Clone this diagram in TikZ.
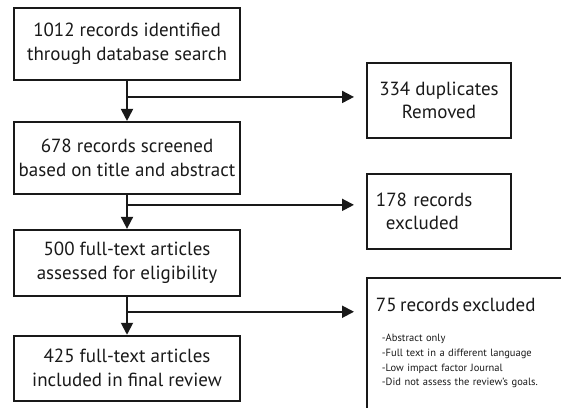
\documentclass[tikz,border=0pt]{standalone}
\usepackage{fontspec}
\setmainfont{PT Sans}
\usetikzlibrary{arrows.meta, positioning}
\tikzset{
  stagebox/.style={rectangle,draw=black!90,line width=1.9pt,text=black!90,
    minimum width=226pt,align=center,font=\fontsize{19}{24}\selectfont},
  sidebox/.style={rectangle,draw=black!90,line width=1.9pt,text=black!90,
    minimum width=144pt,minimum height=75pt,font=\fontsize{19}{23}\selectfont},
  arrow/.style={-{Triangle[length=12pt,width=12pt]},line width=1.9pt,draw=black!90}
}

\begin{document}
\begin{tikzpicture}[x=1pt,y=-1pt]
  \useasboundingbox (0,0) rectangle (561,407);
  \node[stagebox, minimum height=72pt] (ident) at (127,44)
    {1012 records identified\\ through database search};
  \node[stagebox, minimum height=72pt, below=40pt of ident] (screen)
    {678 records screened\\ based on title and abstract};
  \node[stagebox, minimum height=66pt, below=34pt of screen] (assess)
    {500 full-text articles\\ assessed for eligibility};
  \node[stagebox, minimum height=65pt, below=38pt of assess] (incl)
    {425 full-text articles\\ included in final review};

  \node[sidebox, align=center, anchor=north west] (dup) at (366,62)
    {334 duplicates\\ Removed};
  \node[sidebox, align=left, text width=126pt, inner xsep=9pt, anchor=north west] (excl) at (366,173)
    {178 records\\ \hspace*{10pt}excluded};
  \node[rectangle, draw=black!90, line width=1.9pt, text=black!90, anchor=north west,
    text width=190pt, inner xsep=9pt, inner ysep=20pt, align=left, text depth=110pt,
    font=\fontsize{10.5}{14.6}\selectfont] (elig) at (366,277)
    {{\fontsize{19}{23}\selectfont 75 records excluded}\\[16pt]
     \hspace*{6pt}-Abstract only\\
     \hspace*{6pt}-Full text in a different language\\
     \hspace*{6pt}-Low impact factor Journal\\
     \hspace*{6pt}-Did not assess the review's goals.};

  % branch points
  \coordinate[below=16pt of ident.south] (b1);
  \coordinate[below=10pt of screen.south] (b2);
  \coordinate[below=15pt of assess.south] (b3);

  \draw[arrow] (ident) -- (screen);
  \draw[arrow] (screen) -- (assess);
  \draw[arrow] (assess) -- (incl);
  \draw[arrow, shorten >=12pt] (b1) -- (b1 -| dup.west);
  \draw[arrow, shorten >=12pt] (b2) -- (b2 -| excl.west);
  \draw[arrow, shorten >=12pt] (b3) -- (b3 -| elig.west);
\end{tikzpicture}
\end{document}
